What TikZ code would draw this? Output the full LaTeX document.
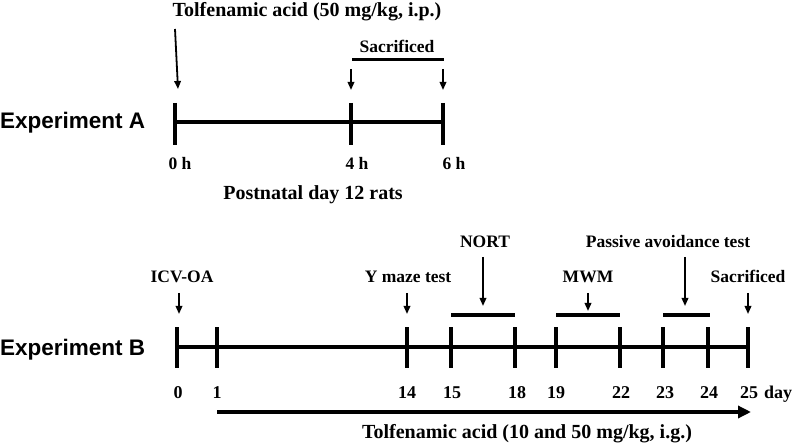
\documentclass[tikz,border=0pt]{standalone}
\usepackage{fontspec}
\setmainfont{Liberation Serif}
\newfontfamily\arialf{Liberation Sans}
\usetikzlibrary{arrows.meta}
\begin{document}
\begin{tikzpicture}[x=1pt,y=-1pt,
  biglbl/.style={font=\bfseries\fontsize{20}{22}\selectfont, inner sep=0pt, anchor=base},
  lbl/.style={font=\bfseries\fontsize{17.5}{20}\selectfont, inner sep=0pt, anchor=base},
  numlbl/.style={font=\bfseries\fontsize{18}{20}\selectfont, inner sep=0pt, anchor=base},
  explbl/.style={font=\arialf\bfseries\fontsize{22.5}{25}\selectfont, inner sep=0pt, anchor=base west},
  axis/.style={line width=3.2pt},
  tickmark/.style={line width=3.6pt},
  barline/.style={line width=3pt},
  arr/.style={line width=1.8pt, -{Triangle[length=8pt,width=6.5pt]}},
  bigarr/.style={line width=3.4pt, -{Triangle[length=13pt,width=12pt]}}]
\useasboundingbox (0,0) rectangle (795,446);

% ---------- Experiment A ----------
\node[explbl] (expA) at (0,129) {Experiment A};
\coordinate (A0) at (175,122);
\coordinate (A4) at (351,122);
\coordinate (A6) at (443,122);
\draw[axis] (A0) -- (A6);
\foreach \c in {A0,A4,A6}{\draw[tickmark] ([yshift=19pt]\c) -- ([yshift=-23pt]\c);}

\node[biglbl] (tolfA) at (307,17) {Tolfenamic acid (50 mg/kg, i.p.)};
\coordinate (tolfAs) at (175,29);
\coordinate (tolfAe) at (178,89);
\draw[arr] (tolfAs) -- (tolfAe);

\node[lbl] (sacA) at (397,53) {Sacrificed};
\coordinate (barAl) at (352,60);
\coordinate (barAr) at (444,60);
\draw[barline] (barAl) -- (barAr);
\coordinate (s4s) at (351,69);
\coordinate (s4e) at (351,90);
\coordinate (s6s) at (443,69);
\coordinate (s6e) at (443,90);
\draw[arr] (s4s) -- (s4e);
\draw[arr] (s6s) -- (s6e);

\node[lbl] (h0) at (180,170) {0 h};
\node[lbl] (h4) at (357,170) {4 h};
\node[lbl] (h6) at (454,170) {6 h};
\node[biglbl] (pnd) at (313,200) {Postnatal day 12 rats};

% ---------- Experiment B ----------
\node[explbl] (expB) at (0,355) {Experiment B};
\foreach \n/\x in {0/177,1/217,14/407,15/451,18/515,19/556,22/620,23/663,24/708,25/748}{
  \coordinate (B\n) at (\x,347);
}
\draw[axis] (B0) -- (B25);
\foreach \n in {0,1,14,15,18,19,22,23,24,25}{\draw[tickmark] ([yshift=20pt]B\n) -- ([yshift=-21pt]B\n);}
\foreach \n/\x in {0/178,1/217,14/407,15/452,18/517,19/556,22/621,23/665,24/709,25/749}{
  \node[numlbl] (L\n) at (\x,398) {\n};
}
\node[numlbl] (day) at (778,398) {day};

% labels and arrows
\node[lbl] (icv) at (182,283) {ICV-OA};
\coordinate (icvs) at (179,293); \coordinate (icve) at (179,314);
\draw[arr] (icvs) -- (icve);

\node[lbl] (ymaze) at (408,283) {Y maze test};
\coordinate (ys) at (407,293); \coordinate (ye) at (407,314);
\draw[arr] (ys) -- (ye);

\node[lbl] (nort) at (485,248) {NORT};
\coordinate (ns) at (483,257); \coordinate (ne) at (483,306);
\draw[arr] (ns) -- (ne);
\coordinate (nbl) at (451,315); \coordinate (nbr) at (515,315);
\draw[barline] (nbl) -- (nbr);

\node[lbl] (mwm) at (588,283) {MWM};
\coordinate (ms) at (588,293); \coordinate (me) at (588,311);
\draw[arr] (ms) -- (me);
\coordinate (mbl) at (556,315); \coordinate (mbr) at (620,315);
\draw[barline] (mbl) -- (mbr);

\node[lbl] (pat) at (668,248) {Passive avoidance test};
\coordinate (ps) at (685,257); \coordinate (pe) at (685,306);
\draw[arr] (ps) -- (pe);
\coordinate (pbl) at (663,315); \coordinate (pbr) at (710,315);
\draw[barline] (pbl) -- (pbr);

\node[lbl] (sacB) at (748,283) {Sacrificed};
\coordinate (sbs) at (748,293); \coordinate (sbe) at (748,314);
\draw[arr] (sbs) -- (sbe);

% treatment arrow
\coordinate (ts) at (217,412); \coordinate (te) at (751,412);
\draw[bigarr] (ts) -- (te);
\node[biglbl] (tolfB) at (527,438) {Tolfenamic acid (10 and 50 mg/kg, i.g.)};
\end{tikzpicture}
\end{document}
